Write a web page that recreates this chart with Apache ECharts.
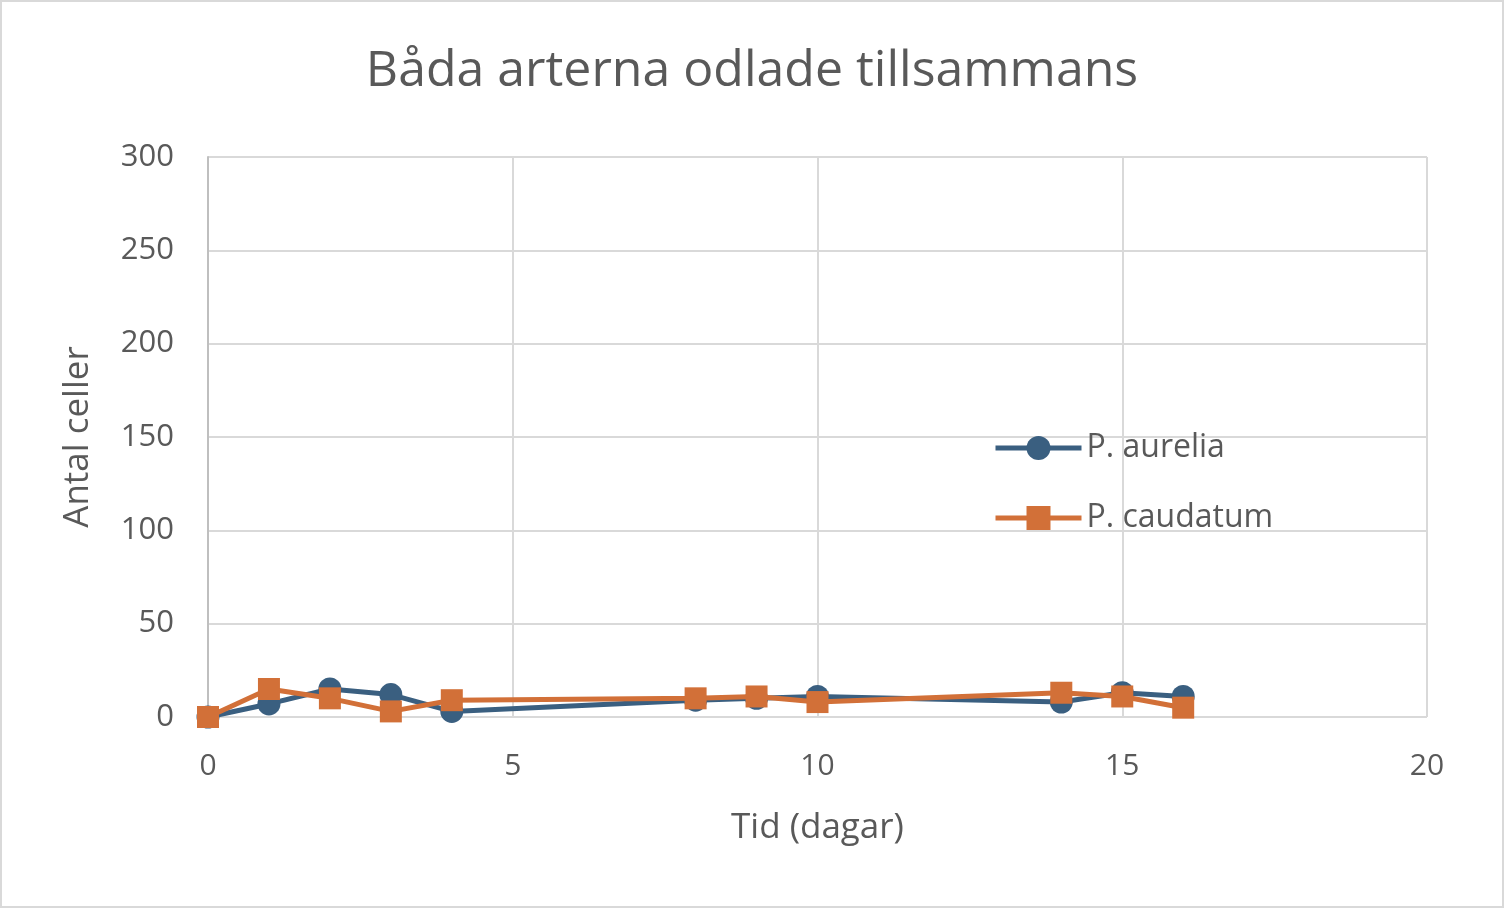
<!DOCTYPE html>
<html>
<head>
<meta charset="utf-8">
<script src="https://cdn.jsdelivr.net/npm/echarts@6/dist/echarts.min.js"></script>
<style>
  html, body { margin: 0; padding: 0; background: #fff; }
  #main { width: 1500px; height: 904px; border: 2px solid #d9d9d9; }
</style>
</head>
<body>
<div id="main"></div>
<script>
// Båda arterna odlade tillsammans
var days = [0, 1, 2, 3, 4, 8, 9, 10, 14, 15, 16];
var aurelia = [0, 7, 15, 12, 3, 9, 10, 11, 8, 13, 11];
var caudatum = [0, 15, 10, 3, 9, 10, 11, 8, 13, 11, 5];

function pairs(xs, ys) {
    var out = [];
    for (var i = 0; i < xs.length; i++) out.push([xs[i], ys[i]]);
    return out;
}

(function(){
    var myChart = echarts.init(document.getElementById("main"));
    var font = '"Open Sans", "Noto Sans", sans-serif';

    option = {
        textStyle: { fontFamily: font },
        title: {
            text: 'Båda arterna odlade tillsammans',
            left: 'center',
            top: 40,
            textStyle: { fontFamily: font, fontSize: 50, fontWeight: 'normal', color: '#595959' }
        },
        legend: {
            orient: 'vertical',
            left: 986,
            top: 425,
            itemWidth: 86,
            itemHeight: 30,
            itemGap: 38,
            lineStyle: { width: 5 },
            textStyle: { fontFamily: font, fontSize: 32, color: '#595959', padding: [0, 0, 0, 0] },
            data: ['P. aurelia', 'P. caudatum']
        },
        grid: {
            left: 206,
            right: 75,
            top: 155,
            bottom: 189
        },
        xAxis: {
            type: 'value',
            min: 0,
            max: 20,
            interval: 5,
            name: 'Tid (dagar)',
            nameLocation: 'middle',
            nameGap: 94,
            nameTextStyle: { fontFamily: font, fontSize: 35, color: '#595959' },
            axisLine: { show: false },
            axisTick: { show: false },
            axisLabel: { fontSize: 30, color: '#595959', margin: 34 },
            splitLine: { lineStyle: { color: '#d9d9d9', width: 2 } }
        },
        yAxis: {
            type: 'value',
            min: 0,
            max: 300,
            interval: 50,
            name: 'Antal celler',
            nameLocation: 'middle',
            nameGap: 112,
            nameTextStyle: { fontFamily: font, fontSize: 35, color: '#595959' },
            axisLine: { show: true, lineStyle: { color: '#bfbfbf', width: 2 } },
            axisTick: { show: false },
            axisLabel: { fontSize: 31, color: '#595959', margin: 34 },
            splitLine: { lineStyle: { color: '#d9d9d9', width: 2 } }
        },
        series: [
            {
                name: 'P. aurelia',
                type: 'line',
                data: pairs(days, aurelia),
                symbol: 'circle',
                symbolSize: 23,
                lineStyle: { color: '#3a5f80', width: 5 },
                itemStyle: { color: '#3a5f80' },
                z: 2
            },
            {
                name: 'P. caudatum',
                type: 'line',
                data: pairs(days, caudatum),
                symbol: 'rect',
                symbolSize: 22,
                lineStyle: { color: '#d27038', width: 5 },
                itemStyle: { color: '#d27038', borderRadius: 2 },
                z: 3
            }
        ]
    };

    myChart.setOption(option);
})();
</script>
</body>
</html>
